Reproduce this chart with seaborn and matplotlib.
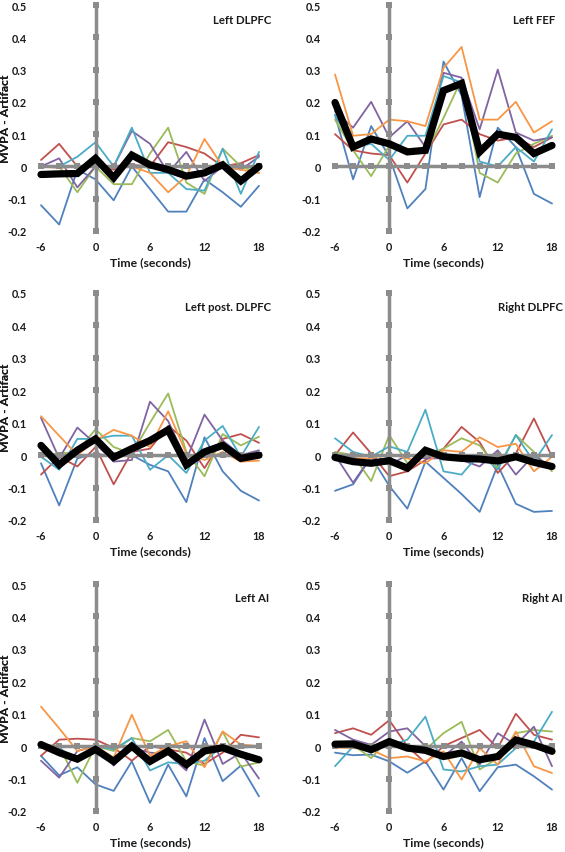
import numpy as np
import pandas as pd
import matplotlib
matplotlib.use("Agg")
import matplotlib.pyplot as plt
import seaborn as sns

sns.set_style("white")
plt.rcParams["font.family"] = ["Lato", "DejaVu Sans"]

time = [-6, -4, -2, 0, 2, 4, 6, 8, 10, 12, 14, 16, 18]
subjects = ["S1", "S2", "S3", "S4", "S5", "S6"]
subject_colors = ["#4F81BD", "#C0504D", "#9BBB59", "#8064A2", "#4BACC6", "#F79646"]
x_ticks = [-6, 0, 6, 12, 18]
y_ticks = [-0.2, -0.1, 0.0, 0.1, 0.2, 0.3, 0.4, 0.5]
y_tick_labels = ["-0.2", "-0.1", "0", "0.1", "0.2", "0.3", "0.4", "0.5"]
titles = ["Left DLPFC", "Left FEF", "Left post. DLPFC", "Right DLPFC", "Left AI", "Right AI"]

# ---- Left DLPFC ----
ldlpfc_s1 = [-0.12, -0.18, -0.01, -0.04, -0.105, 0.0, -0.07, -0.14, -0.14, -0.04, -0.08, -0.125, -0.06]
ldlpfc_s2 = [0.02, 0.07, 0.0, 0.0, -0.01, 0.005, 0.0, 0.075, 0.06, 0.04, 0.0, 0.01, 0.035]
ldlpfc_s3 = [0.0, 0.0, -0.08, 0.0, -0.055, -0.055, 0.04, 0.12, -0.05, -0.085, 0.055, 0.0, -0.02]
ldlpfc_s4 = [0.0, 0.025, -0.065, 0.0, 0.0, 0.11, 0.07, -0.02, 0.045, -0.045, 0.0, -0.01, 0.03]
ldlpfc_s5 = [0.0, 0.0, 0.03, 0.075, 0.0, 0.12, -0.02, -0.02, -0.07, -0.075, 0.055, -0.085, 0.045]
ldlpfc_s6 = [0.0, -0.005, 0.0, 0.005, 0.0, 0.0, -0.02, -0.08, -0.03, 0.085, 0.0, -0.01, -0.02]
ldlpfc_mean = [-0.025, -0.023, -0.022, 0.025, -0.035, 0.035, 0.005, -0.01, -0.03, -0.02, 0.005, -0.045, 0.0]

# ---- Left FEF ----
lfef_s1 = [0.16, -0.04, 0.125, 0.03, -0.13, -0.07, 0.325, 0.22, -0.095, 0.12, 0.06, -0.085, -0.115]
lfef_s2 = [0.1, 0.05, 0.04, 0.035, -0.05, 0.04, 0.13, 0.145, 0.1, 0.08, 0.09, 0.06, 0.09]
lfef_s3 = [0.145, 0.05, -0.03, 0.065, 0.055, 0.04, 0.15, 0.27, -0.02, -0.05, 0.04, 0.07, 0.095]
lfef_s4 = [0.17, 0.12, 0.2, 0.09, 0.14, 0.06, 0.29, 0.275, 0.115, 0.3, 0.105, 0.08, 0.09]
lfef_s5 = [0.16, 0.06, 0.07, 0.02, 0.095, 0.095, 0.28, 0.26, 0.015, 0.0, 0.06, 0.015, 0.115]
lfef_s6 = [0.285, 0.095, 0.1, 0.145, 0.14, 0.125, 0.305, 0.37, 0.145, 0.145, 0.2, 0.105, 0.14]
lfef_mean = [0.198, 0.06, 0.085, 0.07, 0.045, 0.05, 0.235, 0.257, 0.045, 0.1, 0.09, 0.04, 0.065]

# ---- Left post. DLPFC ----
lpd_s1 = [-0.025, -0.155, -0.01, 0.005, -0.005, 0.0, -0.03, -0.05, -0.145, 0.055, -0.05, -0.11, -0.14]
lpd_s2 = [-0.06, -0.005, -0.035, 0.025, -0.09, 0.01, 0.02, 0.09, 0.045, -0.04, 0.05, 0.065, 0.038]
lpd_s3 = [0.0, 0.005, 0.01, 0.08, 0.025, 0.005, 0.1, 0.19, 0.01, -0.065, 0.065, 0.03, 0.057]
lpd_s4 = [0.115, -0.01, 0.085, 0.035, -0.02, -0.015, 0.165, 0.105, -0.015, 0.125, 0.045, 0.0, 0.015]
lpd_s5 = [-0.005, -0.045, 0.05, 0.05, 0.06, 0.06, -0.045, 0.0, -0.055, 0.045, 0.09, -0.005, 0.087]
lpd_s6 = [0.12, 0.06, 0.0, 0.045, 0.078, 0.06, 0.025, 0.135, 0.005, -0.015, 0.01, -0.02, -0.017]
lpd_mean = [0.03, -0.03, 0.015, 0.05, -0.007, 0.02, 0.045, 0.078, -0.03, 0.01, 0.03, -0.01, 0.0]

# ---- Right DLPFC ----
rd_s1 = [-0.11, -0.09, -0.005, -0.095, -0.165, -0.02, -0.07, -0.12, -0.175, -0.03, -0.15, -0.175, -0.172]
rd_s2 = [0.0, 0.07, 0.005, -0.065, -0.05, -0.015, 0.02, 0.087, 0.04, -0.055, 0.005, 0.113, -0.005]
rd_s3 = [0.01, 0.0, -0.08, 0.062, -0.025, 0.0, 0.02, 0.052, 0.03, -0.04, 0.062, 0.01, -0.05]
rd_s4 = [0.0, -0.085, -0.005, -0.03, 0.0, -0.01, -0.01, -0.015, -0.035, 0.015, -0.06, 0.0, -0.04]
rd_s5 = [0.052, 0.01, -0.005, 0.027, 0.01, 0.14, -0.05, -0.06, 0.005, -0.045, 0.062, -0.02, 0.062]
rd_s6 = [0.005, -0.01, -0.01, 0.005, -0.01, -0.025, 0.015, 0.01, 0.055, 0.025, 0.035, -0.05, -0.005]
rd_mean = [-0.007, -0.02, -0.025, -0.017, -0.04, 0.015, -0.005, -0.01, -0.012, -0.018, -0.005, -0.022, -0.035]

# ---- Left AI ----
lai_s1 = [-0.03, -0.09, -0.065, -0.118, -0.138, -0.047, -0.175, -0.057, -0.155, 0.025, -0.108, -0.06, -0.155]
lai_s2 = [-0.03, 0.02, 0.023, 0.02, -0.005, -0.045, 0.0, -0.01, -0.02, -0.055, -0.02, 0.035, 0.027]
lai_s3 = [0.005, 0.0, -0.113, 0.0, -0.015, 0.025, 0.015, 0.05, -0.047, -0.06, 0.045, -0.063, -0.05]
lai_s4 = [-0.045, -0.097, -0.015, 0.0, -0.06, -0.005, -0.02, -0.025, -0.075, 0.082, -0.055, -0.02, -0.1]
lai_s5 = [0.0, -0.005, -0.045, 0.0, -0.01, 0.025, -0.075, -0.05, -0.055, -0.045, 0.0, -0.005, 0.0]
lai_s6 = [0.122, 0.055, -0.015, 0.0, -0.035, 0.097, -0.03, 0.0, 0.015, -0.065, 0.045, 0.005, 0.0]
lai_mean = [0.005, -0.02, -0.04, -0.01, -0.047, 0.0, -0.047, -0.015, -0.057, -0.015, -0.005, -0.025, -0.042]

# ---- Right AI ----
rai_s1 = [-0.02, -0.028, -0.026, -0.047, -0.082, -0.047, -0.134, -0.037, -0.139, -0.065, -0.057, -0.093, -0.134]
rai_s2 = [0.04, 0.055, 0.035, 0.08, 0.0, -0.052, 0.0, 0.025, 0.05, -0.006, 0.1, 0.035, 0.02]
rai_s3 = [0.004, 0.004, -0.037, 0.024, -0.011, -0.011, 0.04, 0.075, -0.072, -0.037, 0.04, 0.05, 0.045]
rai_s4 = [0.05, 0.02, 0.004, 0.045, 0.055, 0.0, -0.032, 0.014, -0.057, 0.04, 0.004, 0.06, -0.062]
rai_s5 = [-0.062, -0.001, 0.004, 0.0, 0.02, 0.091, -0.072, -0.078, -0.062, -0.057, -0.006, 0.014, 0.106]
rai_s6 = [-0.004, -0.006, -0.011, -0.037, -0.032, -0.047, -0.016, -0.103, -0.006, -0.057, 0.045, -0.062, -0.083]
rai_mean = [0.006, 0.007, -0.011, 0.014, -0.006, -0.013, -0.032, -0.021, -0.042, -0.032, 0.019, 0.004, -0.016]

panels = [
    ([ldlpfc_s1, ldlpfc_s2, ldlpfc_s3, ldlpfc_s4, ldlpfc_s5, ldlpfc_s6], ldlpfc_mean),
    ([lfef_s1, lfef_s2, lfef_s3, lfef_s4, lfef_s5, lfef_s6], lfef_mean),
    ([lpd_s1, lpd_s2, lpd_s3, lpd_s4, lpd_s5, lpd_s6], lpd_mean),
    ([rd_s1, rd_s2, rd_s3, rd_s4, rd_s5, rd_s6], rd_mean),
    ([lai_s1, lai_s2, lai_s3, lai_s4, lai_s5, lai_s6], lai_mean),
    ([rai_s1, rai_s2, rai_s3, rai_s4, rai_s5, rai_s6], rai_mean),
]

W, H = 565, 853
fig = plt.figure(figsize=(W / 100, H / 100), dpi=100)

col_x = [(41, 218), (335, 217)]
row_y = [(6, 232), (294, 521), (585, 812)]
# right edge (px) of title text for each panel
title_right = [271, 555, 271, 563, 269, 563]

gray = "#8C8C8C"
time_grid = [-6, -4, -2, 0, 2, 4, 6, 8, 10, 12, 14, 16, 18]
y_grid = [-0.2, -0.1, 0.0, 0.1, 0.2, 0.3, 0.4, 0.5]

for i, (series, mean) in enumerate(panels):
    r, c = divmod(i, 2)
    x0, w = col_x[c]
    top, bot = row_y[r]
    ax = fig.add_axes([x0 / W, 1 - bot / H, w / W, (bot - top) / H])

    df = pd.DataFrame({
        "time": np.tile(time, len(subjects)),
        "value": np.concatenate(series),
        "subject": np.repeat(subjects, len(time)),
    })
    sns.lineplot(data=df, x="time", y="value", hue="subject",
                 palette=dict(zip(subjects, subject_colors)), legend=False,
                 linewidth=1.3, ax=ax, zorder=2, clip_on=False)

    # gray reference axes with square markers
    sns.lineplot(x=time_grid, y=[0.0] * len(time_grid), color=gray, linewidth=2.5,
                 marker="s", markersize=4, markeredgewidth=0, ax=ax, zorder=3, clip_on=False)
    sns.lineplot(x=[0.0] * len(y_grid), y=y_grid, orient="y", sort=False, color=gray,
                 linewidth=2.5, marker="s", markersize=4, markeredgewidth=0, ax=ax,
                 zorder=3, clip_on=False)

    sns.lineplot(x=time, y=mean, color="black", linewidth=5.2, ax=ax, zorder=4,
                 clip_on=False, solid_joinstyle="miter")

    ax.set_xlim(-6, 18)
    ax.set_ylim(-0.2, 0.5)
    ax.set_xticks(x_ticks)
    ax.set_xticklabels([str(t) for t in x_ticks])
    ax.set_yticks(y_ticks)
    ax.set_yticklabels(y_tick_labels)
    ax.tick_params(length=0, labelsize=7.8)
    ax.tick_params(axis="y", pad=10)
    ax.tick_params(axis="x", pad=7)
    for lab in ax.get_xticklabels() + ax.get_yticklabels():
        lab.set_fontweight("bold")
        lab.set_color("#1a1a1a")
    for s in ax.spines.values():
        s.set_visible(False)
    ax.set_xlabel("Time (seconds)", fontsize=8.8, fontweight="bold", labelpad=3, color="#1a1a1a")
    ax.set_ylabel("MVPA - Artifact", fontsize=8.8, fontweight="bold", labelpad=5, color="#1a1a1a")
    ax.yaxis.set_label_coords((11 - x0) / w, 0.5)
    ax.text((title_right[i] - x0) / w, 1 - 14 / (bot - top), titles[i], transform=ax.transAxes,
            ha="right", va="center", fontsize=8.2, fontweight="bold", color="#1a1a1a")

fig.savefig("out.png", dpi=100, facecolor="white")
